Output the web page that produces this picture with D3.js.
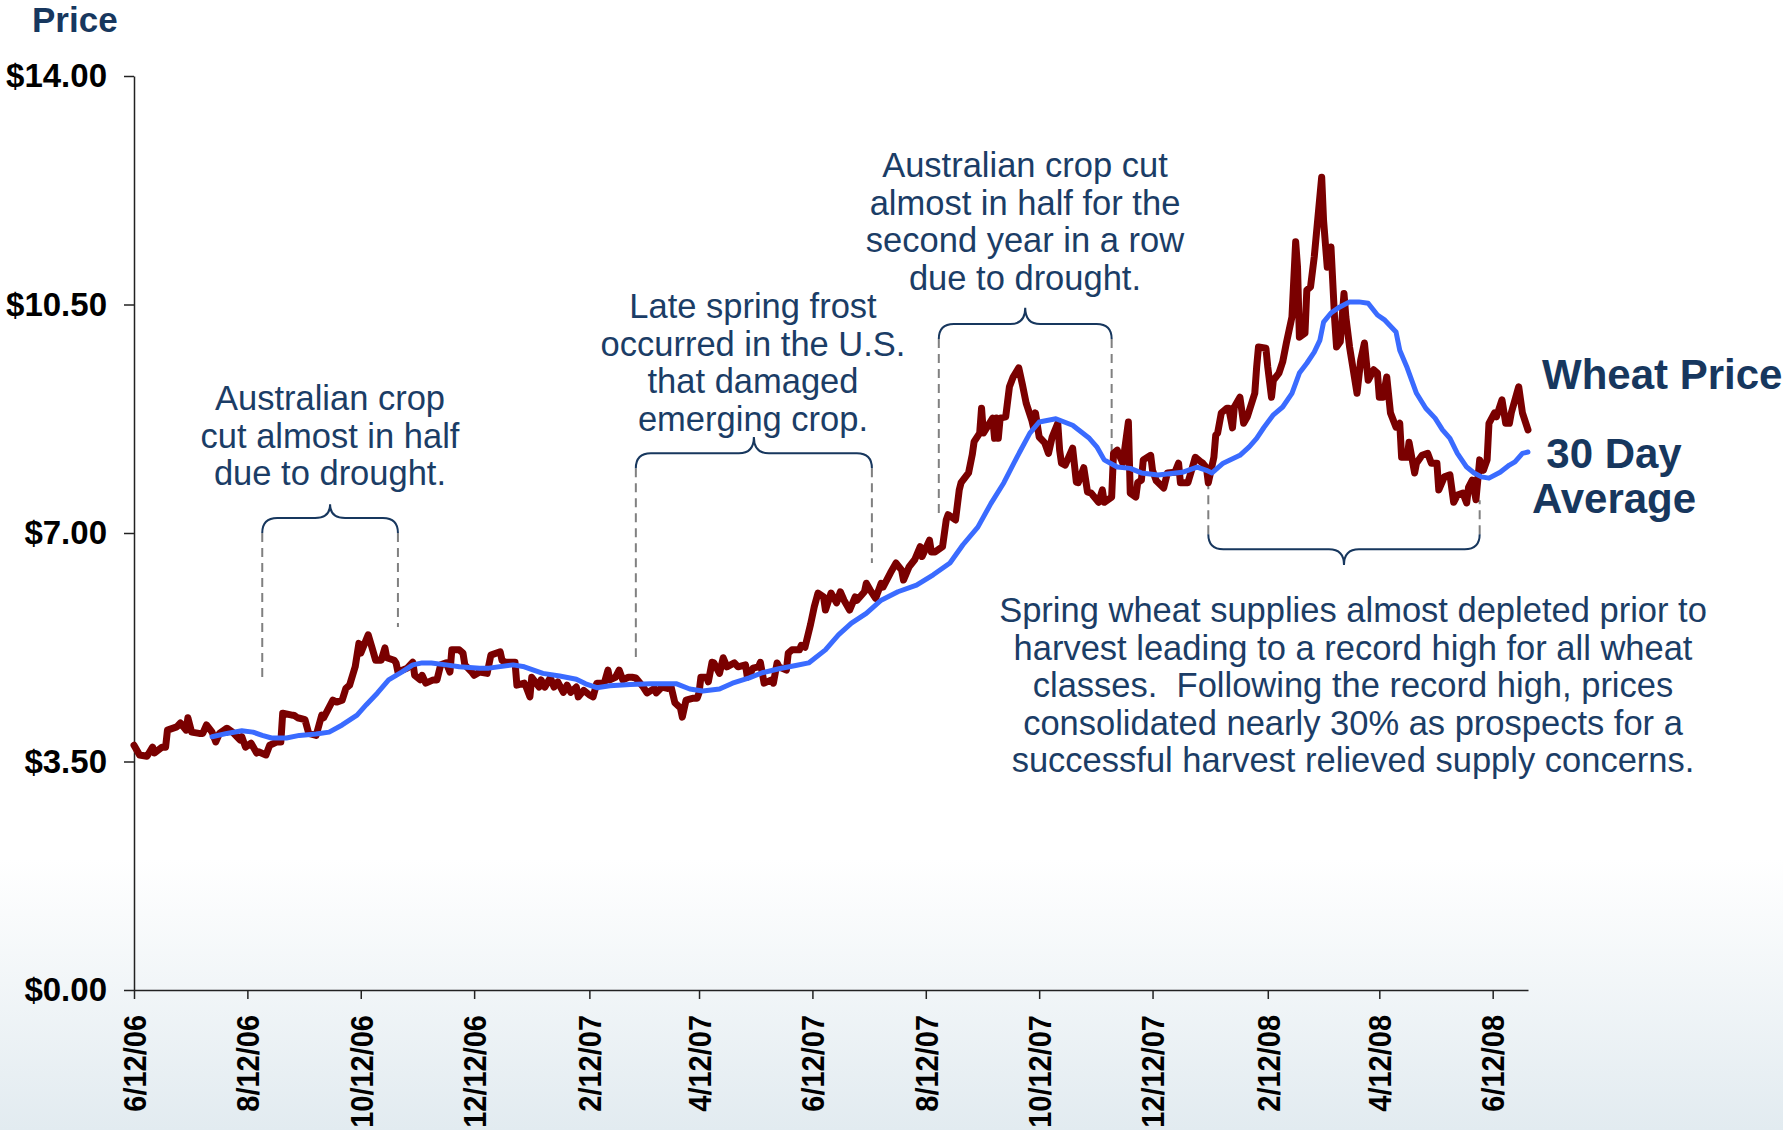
<!DOCTYPE html>
<html>
<head>
<meta charset="utf-8">
<script src="https://cdn.jsdelivr.net/npm/d3@7"></script>
<style>
  body { margin: 0; background: #fff; }
  svg { display: block; font-family: Arial, "Liberation Sans", sans-serif; }
</style>
</head>
<body>
<div id="chart"></div>
<script>
// daily wheat price
const priceDates = [
  "6/12/06","6/15/06","6/19/06","6/22/06","6/23/06","6/27/06","6/29/06","6/30/06",
  "7/5/06","7/7/06","7/10/06","7/11/06","7/13/06","7/17/06","7/19/06","7/21/06","7/24/06","7/26/06","7/28/06",
  "8/1/06","8/4/06","8/8/06","8/9/06","8/11/06","8/14/06","8/17/06","8/18/06","8/22/06","8/24/06","8/28/06","8/30/06","8/31/06",
  "9/5/06","9/6/06","9/8/06","9/12/06","9/14/06","9/18/06","9/21/06","9/22/06","9/27/06","9/29/06",
  "10/2/06","10/4/06","10/6/06","10/9/06","10/11/06","10/12/06","10/16/06","10/18/06","10/20/06","10/23/06","10/25/06","10/26/06","10/30/06","10/31/06",
  "11/1/06","11/6/06","11/9/06","11/10/06","11/13/06","11/14/06","11/16/06","11/20/06","11/22/06","11/24/06","11/27/06","11/29/06","11/30/06",
  "12/4/06","12/6/06","12/7/06","12/11/06","12/12/06","12/15/06","12/19/06","12/21/06","12/26/06","12/27/06","12/29/06",
  "1/3/07","1/4/07","1/8/07","1/9/07","1/11/07","1/12/07","1/16/07","1/17/07","1/19/07","1/22/07","1/24/07","1/26/07","1/29/07","1/31/07",
  "2/2/07","2/5/07","2/6/07","2/9/07","2/12/07","2/14/07","2/16/07","2/20/07","2/22/07","2/23/07","2/26/07","2/28/07",
  "3/2/07","3/5/07","3/7/07","3/9/07","3/13/07","3/15/07","3/19/07","3/20/07","3/23/07","3/26/07","3/28/07","3/30/07",
  "4/2/07","4/3/07","4/5/07","4/9/07","4/11/07","4/12/07","4/13/07","4/16/07","4/17/07","4/19/07","4/20/07","4/23/07","4/25/07","4/27/07",
  "5/1/07","5/3/07","5/7/07","5/8/07","5/10/07","5/11/07","5/14/07","5/15/07","5/17/07","5/21/07","5/22/07","5/24/07","5/25/07","5/29/07","5/30/07",
  "6/1/07","6/5/07","6/6/07","6/8/07","6/11/07","6/13/07","6/15/07","6/18/07","6/19/07","6/22/07","6/25/07","6/27/07","6/29/07",
  "7/2/07","7/5/07","7/6/07","7/10/07","7/11/07","7/13/07","7/16/07","7/19/07","7/20/07","7/24/07","7/27/07","7/30/07","7/31/07",
  "8/3/07","8/6/07","8/9/07","8/10/07","8/14/07","8/15/07","8/17/07","8/21/07","8/23/07","8/24/07","8/28/07","8/30/07","8/31/07",
  "9/4/07","9/6/07","9/7/07","9/10/07","9/11/07","9/12/07","9/14/07","9/17/07","9/18/07","9/19/07","9/20/07","9/21/07","9/24/07","9/26/07","9/28/07",
  "10/1/07","10/3/07","10/5/07","10/8/07","10/9/07","10/10/07","10/12/07","10/15/07","10/17/07","10/19/07","10/22/07","10/23/07","10/24/07","10/26/07","10/30/07",
  "11/1/07","11/2/07","11/5/07","11/7/07","11/9/07","11/13/07","11/15/07","11/16/07","11/20/07","11/21/07","11/23/07","11/26/07","11/29/07","11/30/07",
  "12/3/07","12/4/07","12/6/07","12/7/07","12/11/07","12/12/07","12/14/07","12/18/07","12/20/07","12/24/07","12/26/07","12/27/07","12/31/07",
  "1/2/08","1/4/08","1/7/08","1/8/08","1/10/08","1/11/08","1/14/08","1/15/08","1/16/08","1/18/08","1/21/08","1/22/08","1/24/08","1/25/08","1/28/08","1/30/08",
  "2/1/08","2/5/08","2/6/08","2/7/08","2/11/08","2/12/08","2/14/08","2/15/08","2/18/08","2/20/08","2/22/08","2/25/08","2/27/08","2/28/08","2/29/08",
  "3/3/08","3/4/08","3/6/08","3/8/08","3/12/08","3/13/08","3/15/08","3/17/08","3/19/08","3/20/08","3/22/08","3/24/08","3/25/08","3/27/08","3/31/08",
  "4/2/08","4/4/08","4/6/08","4/9/08","4/11/08","4/12/08","4/14/08","4/16/08","4/18/08","4/21/08","4/23/08","4/24/08","4/27/08","4/28/08",
  "5/1/08","5/2/08","5/5/08","5/8/08","5/10/08","5/13/08","5/14/08","5/17/08","5/20/08","5/22/08","5/24/08","5/27/08","5/29/08","5/30/08",
  "6/1/08","6/3/08","6/5/08","6/7/08","6/9/08","6/10/08","6/13/08","6/14/08","6/17/08","6/19/08","6/21/08","6/22/08","6/26/08","6/28/08",
  "7/1/08"
];
const priceValues = [
  3.75,3.60,3.58,3.72,3.63,3.72,3.72,3.98,
  4.03,4.09,3.98,4.17,3.95,3.93,3.93,4.06,3.95,3.80,3.93,
  4.01,3.95,3.83,3.88,3.72,3.78,3.63,3.65,3.60,3.75,3.80,3.80,4.24,
  4.21,4.21,4.17,4.14,3.93,3.90,4.21,4.17,4.44,4.41,
  4.44,4.62,4.67,4.95,5.31,5.16,5.44,5.25,5.05,5.05,5.24,5.09,5.05,5.01,
  4.87,4.93,5.02,4.82,4.75,4.82,4.70,4.75,4.75,4.98,5.01,4.87,5.21,
  5.21,5.16,4.98,4.86,4.82,4.87,4.85,5.13,5.18,5.05,5.02,
  5.02,4.67,4.70,4.64,4.49,4.79,4.64,4.75,4.64,4.78,4.64,4.72,4.56,4.67,
  4.56,4.64,4.49,4.59,4.52,4.49,4.70,4.70,4.90,4.75,4.79,4.90,
  4.75,4.79,4.79,4.78,4.64,4.55,4.62,4.55,4.64,4.62,4.64,4.40,
  4.32,4.18,4.44,4.47,4.47,4.55,4.79,4.79,4.72,5.02,5.01,4.85,5.09,4.95,
  5.01,4.95,4.98,4.79,4.87,4.93,4.95,5.02,4.70,4.75,4.70,5.01,4.95,4.90,5.16,
  5.21,5.21,5.28,5.25,5.60,5.87,6.08,6.02,5.82,6.08,5.93,6.10,5.97,
  5.82,6.02,5.97,6.10,6.23,6.13,6.00,6.23,6.17,6.39,6.54,6.43,6.28,
  6.48,6.59,6.79,6.64,6.89,6.71,6.71,6.79,7.20,7.28,7.20,7.66,7.77,
  7.92,8.20,8.40,8.53,8.91,8.53,8.62,8.76,8.45,8.76,8.45,8.76,8.78,9.24,9.39,
  9.53,9.27,8.99,8.73,8.61,8.84,8.47,8.38,8.22,8.47,8.68,8.27,8.07,8.04,8.30,
  7.78,7.77,8.00,7.63,7.61,7.47,7.66,7.47,7.55,8.22,8.27,8.07,8.70,7.61,
  7.55,7.77,7.81,8.12,8.19,7.96,7.80,7.69,7.92,7.93,8.07,7.77,7.77,
  7.96,8.16,8.09,8.07,8.00,7.77,8.16,8.50,8.53,8.84,8.91,8.91,8.61,8.93,9.08,8.68,
  8.78,9.14,9.54,9.85,9.83,9.54,9.08,9.34,9.45,9.62,9.91,10.31,11.46,11.07,10.00,
  10.06,10.72,10.77,11.23,12.45,11.79,11.07,11.38,10.26,9.85,9.93,10.67,10.31,9.85,9.14,
  9.65,9.91,9.34,9.50,9.45,9.08,9.08,9.39,8.84,8.62,8.68,8.16,8.16,8.39,
  7.92,8.07,8.19,8.22,8.07,8.07,7.66,7.86,7.89,7.47,7.58,7.61,7.46,7.70,
  7.81,7.51,8.12,7.96,8.12,8.68,8.84,8.78,9.04,8.68,8.68,8.84,9.24,8.84,
  8.58
];

// 30 day average
const avgDates = [
  "7/24/06","8/1/06","8/9/06","8/15/06","8/20/06","8/25/06","9/2/06","9/9/06","9/18/06","9/25/06",
  "10/2/06","10/10/06","10/15/06","10/21/06","10/27/06","11/3/06","11/9/06","11/14/06","11/19/06","11/27/06",
  "12/4/06","12/15/06","12/20/06","1/2/07","1/8/07","1/18/07","1/27/07","2/5/07","2/10/07","2/16/07",
  "2/23/07","3/6/07","3/17/07","3/31/07","4/7/07","4/14/07","4/23/07","4/30/07","5/9/07","5/16/07",
  "5/25/07","6/3/07","6/10/07","6/19/07","6/26/07","7/3/07","7/11/07","7/19/07","7/28/07","8/7/07",
  "8/16/07","8/25/07","9/1/07","9/9/07","9/16/07","9/23/07","9/30/07","10/7/07","10/12/07","10/21/07",
  "10/30/07","11/8/07","11/12/07","11/16/07","11/23/07","11/30/07","12/6/07","12/15/07","12/28/07","1/5/08",
  "1/10/08","1/13/08","1/19/08","1/28/08","2/2/08","2/6/08","2/10/08","2/15/08","2/20/08","2/25/08",
  "2/29/08","3/4/08","3/8/08","3/11/08","3/13/08","3/17/08","3/21/08","3/27/08","4/1/08","4/6/08",
  "4/11/08","4/15/08","4/21/08","4/23/08","4/27/08","5/2/08","5/7/08","5/12/08","5/16/08","5/20/08",
  "5/24/08","5/29/08","6/2/08","6/6/08","6/10/08","6/16/08","6/21/08","6/24/08","6/28/08","7/1/08"
];
const avgValues = [
  3.88,3.93,3.97,3.95,3.90,3.86,3.86,3.90,3.92,3.95,
  4.06,4.21,4.37,4.55,4.75,4.87,4.98,5.01,5.01,4.98,
  4.95,4.93,4.93,4.98,4.95,4.85,4.81,4.76,4.69,4.63,
  4.66,4.68,4.69,4.69,4.61,4.58,4.61,4.70,4.78,4.86,
  4.92,4.97,5.01,5.21,5.44,5.62,5.77,5.97,6.10,6.20,
  6.36,6.54,6.82,7.09,7.45,7.77,8.16,8.53,8.70,8.75,
  8.65,8.45,8.32,8.12,8.01,7.99,7.92,7.89,7.93,8.01,
  7.96,7.92,8.07,8.19,8.32,8.45,8.62,8.81,8.93,9.14,
  9.45,9.60,9.77,9.95,10.23,10.37,10.45,10.54,10.54,10.52,
  10.34,10.26,10.08,9.80,9.53,9.14,8.91,8.76,8.58,8.45,
  8.22,8.01,7.92,7.86,7.84,7.93,8.04,8.09,8.22,8.24
];

const yTicks = [0, 3.5, 7, 10.5, 14];
const xTicks = ["6/12/06","8/12/06","10/12/06","12/12/06","2/12/07","4/12/07","6/12/07",
                "8/12/07","10/12/07","12/12/07","2/12/08","4/12/08","6/12/08"];

const W = 1783, H = 1130;
const navy = "#17375e";
const parse = d3.timeParse("%m/%d/%y");

const price = priceDates.map((d, i) => ({ date: parse(d), value: priceValues[i] }));
const avg = avgDates.map((d, i) => ({ date: parse(d), value: avgValues[i] }));

const svg = d3.select("#chart").append("svg")
    .attr("width", W)
    .attr("height", H);

// soft blue fade at the bottom
const grad = svg.append("defs").append("linearGradient")
    .attr("id", "bg").attr("x1", 0).attr("y1", 0).attr("x2", 0).attr("y2", 1);
grad.append("stop").attr("offset", "0%").attr("stop-color", "#ffffff");
grad.append("stop").attr("offset", "76%").attr("stop-color", "#ffffff");
grad.append("stop").attr("offset", "100%").attr("stop-color", "#e2ebf0");
svg.append("rect").attr("width", W).attr("height", H).attr("fill", "url(#bg)");

const x = d3.scaleTime().domain([parse("6/12/06"), parse("7/1/08")]).range([134, 1528]);
const y = d3.scaleLinear().domain([0, 14]).range([990, 76]);

// axes
const yAxis = svg.append("g")
    .attr("transform", "translate(134,0)")
    .call(d3.axisLeft(y).tickValues(yTicks).tickSize(10).tickSizeOuter(0).tickPadding(17)
        .tickFormat(d => "$" + d3.format(".2f")(d)));
yAxis.selectAll("path, line").attr("stroke", "#222").attr("stroke-width", 1.5);
yAxis.selectAll("text")
    .style("font-family", "Arial, 'Liberation Sans', sans-serif")
    .style("font-size", "33px")
    .style("font-weight", "bold")
    .attr("fill", "#000");

const xAxis = svg.append("g")
    .attr("transform", "translate(0,990)")
    .call(d3.axisBottom(x).tickValues(xTicks.map(parse)).tickSize(9).tickSizeOuter(0)
        .tickFormat(d3.timeFormat("%-m/%d/%y")));
xAxis.selectAll("path, line").attr("stroke", "#222").attr("stroke-width", 1.5);
xAxis.selectAll("text")
    .attr("transform", "rotate(-90) scale(1,1.08)")
    .attr("x", -25)
    .attr("y", 0)
    .attr("dy", "0.36em")
    .attr("text-anchor", "end")
    .style("font-family", "Arial, 'Liberation Sans', sans-serif")
    .style("font-size", "29px")
    .style("font-weight", "bold")
    .attr("fill", "#000");

svg.append("text")
    .attr("x", 32).attr("y", 32)
    .text("Price")
    .style("font-size", "35px")
    .style("font-weight", "bold")
    .attr("fill", navy);

// brackets with dashed leaders, anchored on dates / prices
const brackets = [
    { from: "8/20/06", to: "11/1/06", bar: 7.23, tip: 7.44, leftEnd: 4.75, rightEnd: 5.56 },
    { from: "3/9/07", to: "7/14/07", bar: 8.22, tip: 8.47, leftEnd: 5.10, rightEnd: 6.54 },
    { from: "8/19/07", to: "11/20/07", bar: 10.20, tip: 10.45, leftEnd: 7.23, rightEnd: 7.50 },
    { from: "1/11/08", to: "6/5/08", bar: 6.75, tip: 6.51, leftEnd: 7.89, rightEnd: 7.50 }
];
const r = 15;

brackets.forEach(b => {
    const x1 = x(parse(b.from)), x2 = x(parse(b.to)), xm = (x1 + x2) / 2;
    const y0 = y(b.bar), yt = y(b.tip);
    const s = yt < y0 ? 1 : -1; // 1 = brace opens downward
    const path = `M${x1},${y0 + s * r} Q${x1},${y0} ${x1 + r},${y0} L${xm - r},${y0} ` +
        `Q${xm},${y0} ${xm},${yt} Q${xm},${y0} ${xm + r},${y0} L${x2 - r},${y0} Q${x2},${y0} ${x2},${y0 + s * r}`;

    [[x1, b.leftEnd], [x2, b.rightEnd]].forEach(([xx, v]) => {
        svg.append("line")
            .attr("x1", xx).attr("x2", xx)
            .attr("y1", y0 + s * r).attr("y2", y(v))
            .attr("stroke", "#808080")
            .attr("stroke-width", 2)
            .attr("stroke-dasharray", "9,6");
    });

    svg.append("path")
        .attr("d", path)
        .attr("fill", "none")
        .attr("stroke", navy)
        .attr("stroke-width", 2);
});

// lines
const line = d3.line().x(d => x(d.date)).y(d => y(d.value));

svg.append("path")
    .datum(price)
    .attr("d", line)
    .attr("fill", "none")
    .attr("stroke", "#7a0000")
    .attr("stroke-width", 7)
    .attr("stroke-linejoin", "round")
    .attr("stroke-linecap", "round");

svg.append("path")
    .datum(avg)
    .attr("d", line)
    .attr("fill", "none")
    .attr("stroke", "#3a6bff")
    .attr("stroke-width", 5)
    .attr("stroke-linejoin", "round")
    .attr("stroke-linecap", "round");

// notes
const notes = [
    { cx: 330, top: 410, lines: ["Australian crop", "cut almost in half", "due to drought."] },
    { cx: 753, top: 318, lines: ["Late spring frost", "occurred in the U.S.", "that damaged", "emerging crop."] },
    { cx: 1025, top: 177, lines: ["Australian crop cut", "almost in half for the", "second year in a row", "due to drought."] },
    { cx: 1353, top: 622, lines: ["Spring wheat supplies almost depleted prior to",
        "harvest leading to a record high for all wheat",
        "classes.  Following the record high, prices",
        "consolidated nearly 30% as prospects for a",
        "successful harvest relieved supply concerns."] }
];

notes.forEach(n => {
    svg.append("g")
        .selectAll("text")
        .data(n.lines)
        .join("text")
        .attr("x", n.cx)
        .attr("y", (d, i) => n.top + i * 37.5)
        .attr("text-anchor", "middle")
        .style("font-size", "34.5px")
        .style("white-space", "pre")
        .attr("fill", "#1b3d66")
        .text(d => d);
});

// legend labels
const legend = svg.append("g")
    .style("font-size", "42px")
    .style("font-weight", "bold")
    .attr("fill", navy);
legend.append("text").attr("x", 1542).attr("y", 389).text("Wheat Price");
legend.append("text").attr("x", 1614).attr("y", 468).attr("text-anchor", "middle").text("30 Day");
legend.append("text").attr("x", 1614).attr("y", 513).attr("text-anchor", "middle").text("Average");
</script>
</body>
</html>
